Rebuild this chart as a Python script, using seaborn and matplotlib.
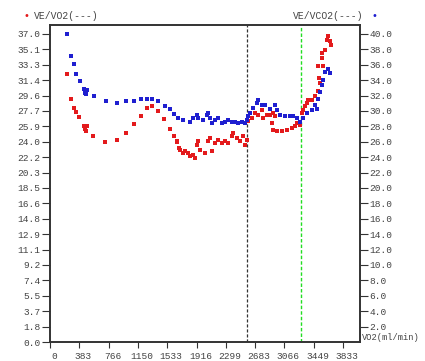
import matplotlib
matplotlib.use("Agg")
import matplotlib.pyplot as plt
import matplotlib.transforms as mtransforms
import seaborn as sns
import pandas as pd

# ---- data ----
ve_vo2_x = [218, 275, 310, 344, 383, 445, 464, 484, 471, 566, 723, 880, 998, 1099, 1194,
            1273, 1330, 1413, 1495, 1574, 1626, 1657, 1665, 1688, 1701, 1744, 1766, 1809,
            1831, 1875, 1897, 1919, 1940, 1962, 2028, 2071, 2093, 2115, 2159, 2202, 2246,
            2289, 2333, 2377, 2398, 2442, 2486, 2529, 2551, 2573, 2594, 2638, 2682, 2725,
            2769, 2790, 2835, 2878, 2921, 2943, 2900, 2921, 2966, 3031, 3096, 3162, 3205,
            3227, 3270, 3293, 3314, 3336, 3358, 3379, 3423, 3467, 3510, 3532, 3519, 3510,
            3575, 3554, 3564, 3597, 3620, 3663, 3676, 3641]
ve_vo2_y = [32.2, 29.2, 28.1, 27.6, 27.0, 26.0, 25.6, 25.9, 25.3, 24.7, 24.0, 24.3, 25.1, 26.2, 27.2,
            28.1, 28.3, 27.7, 26.8, 25.6, 24.7, 24.1, 24.0, 23.3, 23.1, 22.7, 22.9, 22.7,
            22.3, 22.5, 22.1, 23.7, 24.1, 23.1, 22.7, 24.1, 24.5, 22.9, 23.9, 24.3, 23.9,
            24.1, 23.9, 24.7, 25.1, 24.5, 24.1, 24.7, 23.7, 24.3, 26.5, 26.9, 27.5, 27.3,
            27.9, 26.9, 27.3, 27.3, 27.5, 27.1, 26.3, 25.5, 25.3, 25.3, 25.5, 25.7, 25.9,
            26.3, 26.1, 27.5, 27.9, 28.3, 28.7, 29.1, 29.1, 29.5, 30.1, 31.1, 31.7, 33.1,
            33.1, 34.1, 34.7, 35.1, 36.3, 36.1, 35.7, 36.7]

ve_vco2_x = [218, 275, 310, 344, 388, 445, 464, 484, 471, 571, 728, 880, 998, 1099, 1194,
             1269, 1330, 1413, 1500, 1574, 1626, 1678, 1744, 1831, 1875, 1919, 1940, 2005,
             2050, 2071, 2093, 2115, 2159, 2202, 2246, 2289, 2333, 2377, 2420, 2464, 2508,
             2551, 2573, 2590, 2616, 2655, 2704, 2725, 2769, 2812, 2878, 2943, 2966, 3009,
             3074, 3140, 3183, 3227, 3270, 3314, 3358, 3423, 3467, 3488, 3510, 3532, 3554,
             3575, 3597, 3641, 3663]
ve_vco2_y = [40.0, 37.2, 36.1, 34.8, 33.9, 32.9, 32.4, 32.7, 32.2, 31.9, 31.3, 31.0, 31.3, 31.3, 31.5,
             31.6, 31.5, 31.3, 30.7, 30.2, 29.6, 29.1, 28.8, 28.6, 29.1, 29.5, 29.1, 28.8,
             29.5, 29.7, 29.1, 28.4, 28.8, 29.1, 28.4, 28.6, 28.8, 28.6, 28.6, 28.4, 28.6,
             28.4, 28.8, 29.3, 29.7, 30.4, 31.0, 31.4, 30.8, 30.8, 30.3, 30.8, 30.1, 29.5,
             29.3, 29.3, 29.3, 29.1, 28.6, 29.1, 29.7, 30.1, 30.8, 30.3, 31.6, 32.5, 33.4,
             34.0, 35.1, 35.5, 34.9]

x_ticks = [0, 383.3, 766.6, 1149.9, 1533.2, 1916.5, 2299.8, 2683.1, 3066.4, 3449.7, 3833.0]
x_labels = ["0", "383", "766", "1150", "1533", "1916", "2299", "2683", "3066", "3449", "3833"]
left_labels = ["0.0", "1.8", "3.7", "5.5", "7.4", "9.2", "11.1", "12.9", "14.8", "16.6", "18.5",
               "20.3", "22.2", "24.0", "25.9", "27.7", "29.6", "31.4", "33.3", "35.1", "37.0"]
right_labels = ["2.0", "4.0", "6.0", "8.0", "10.0", "12.0", "14.0", "16.0", "18.0", "20.0",
                "22.0", "24.0", "26.0", "28.0", "30.0", "32.0", "34.0", "36.0", "38.0", "40.0"]
threshold_lines = [2577, 3284]

# ---- style ----
sns.set_theme(style="white")
plt.rcParams["font.family"] = ["Liberation Mono", "DejaVu Sans Mono"]
RED = "#e31a1c"
BLUE = "#1f1fd0"
TXT = "#444444"

fig = plt.figure(figsize=(4.25, 3.61), dpi=100)
ax = fig.add_axes([50 / 425, 1 - 342 / 361, 310 / 425, 317 / 361])
ax2 = ax.twinx()

df1 = pd.DataFrame({"x": ve_vo2_x, "y": ve_vo2_y})
df2 = pd.DataFrame({"x": ve_vco2_x, "y": ve_vco2_y})

sns.scatterplot(data=df1, x="x", y="y", ax=ax, color=RED, s=6, marker="s",
                linewidth=0, legend=False, zorder=3)
sns.scatterplot(data=df2, x="x", y="y", ax=ax2, color=BLUE, s=5, marker="s",
                linewidth=0, legend=False, zorder=3)

ax.axvline(threshold_lines[0], color="#333333", lw=0.9, ls=(0, (2.5, 1.5)), zorder=1)
ax.axvline(threshold_lines[1], color="#22dd22", lw=1.0, ls=(0, (2.5, 1.5)), zorder=1)

xmax = 3833 * 310 / 293
ax.set_xlim(0, xmax)
ytop = 37.0 * 317 / 308
ax.set_ylim(0, ytop)
ax2.set_ylim(0, ytop * 40 / 37)

ax.set_xticks(x_ticks)
ax.set_xticklabels(x_labels)
ax.set_yticks([i * 1.85 for i in range(21)])
ax.set_yticklabels(left_labels)
ax2.set_yticks([2.0 * (i + 1) for i in range(20)])
ax2.set_yticklabels(right_labels)

for a in (ax, ax2):
    a.set_xlabel("")
    a.set_ylabel("")
    for sp in a.spines.values():
        sp.set_color("#333333")
        sp.set_linewidth(1.2)

ax.tick_params(axis="x", direction="out", length=4, width=0.8, color="#333333",
               labelsize=6.8, labelcolor=TXT, pad=3, bottom=True)
ax.tick_params(axis="y", direction="out", length=6, width=0.8, color="#333333",
               labelsize=6.8, labelcolor=TXT, pad=1, left=True)
ax2.tick_params(axis="y", direction="out", length=6, width=0.8, color="#333333",
                labelsize=6.8, labelcolor=TXT, pad=1, right=True)

# shift x tick labels slightly to the right like the reference
offset = mtransforms.ScaledTranslation(4 / 100, 0, fig.dpi_scale_trans)
for lbl in ax.get_xticklabels():
    lbl.set_transform(lbl.get_transform() + offset)

# header legends
fig.text(26 / 425, 1 - 16 / 361, "•", color=RED, fontsize=7, ha="center", va="center",
         family="DejaVu Sans")
fig.text(34 / 425, 1 - 16 / 361, "VE/VO2(---)", color=TXT, fontsize=7.0, ha="left", va="center")
fig.text(363 / 425, 1 - 16 / 361, "VE/VCO2(---)", color=TXT, fontsize=7.0, ha="right", va="center")
fig.text(374 / 425, 1 - 16 / 361, "•", color=BLUE, fontsize=7, ha="center", va="center",
         family="DejaVu Sans")
fig.text(362 / 425, 1 - 338 / 361, "VO2(ml/min)", color=TXT, fontsize=6.3, ha="left", va="center")

fig.savefig("out.png", dpi=100, facecolor="white")
